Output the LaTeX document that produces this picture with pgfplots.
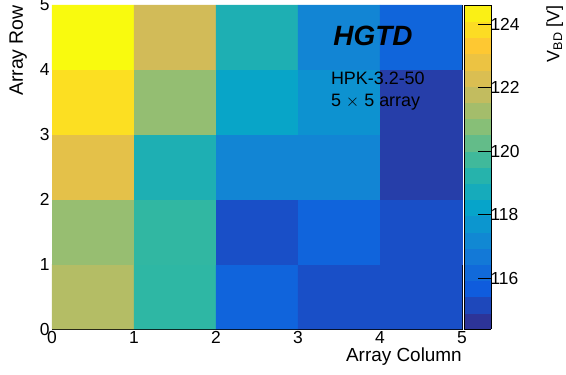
\documentclass[border=0pt]{standalone}
\usepackage{fontspec}
\setmainfont{Liberation Sans}
\usepackage{pgfplots}
\usepackage{pgfplotstable}
\pgfplotsset{compat=1.18}
\pgfplotstableread{
x y v
0.5 0.5 121.55
1.5 0.5 119.5
2.5 0.5 115.95
3.5 0.5 115.35
4.5 0.5 115.35
0.5 1.5 121.05
1.5 1.5 119.55
2.5 1.5 115.35
3.5 1.5 115.95
4.5 1.5 115.35
0.5 2.5 122.6
1.5 2.5 119.0
2.5 2.5 117.1
3.5 2.5 117.1
4.5 2.5 114.9
0.5 3.5 123.9
1.5 3.5 121.0
2.5 3.5 118.3
3.5 3.5 117.6
4.5 3.5 114.9
0.5 4.5 124.6
1.5 4.5 122.1
2.5 4.5 119.0
3.5 4.5 117.1
4.5 4.5 116.0
}\cells
\pgfplotsset{colormap={bird}{rgb=(0.2082,0.1664,0.5293) rgb=(0.0592,0.3599,0.8684) rgb=(0.0780,0.5041,0.8385) rgb=(0.0232,0.6419,0.7914) rgb=(0.1802,0.7178,0.6425) rgb=(0.5301,0.7492,0.4662) rgb=(0.8186,0.7328,0.3499) rgb=(0.9956,0.7862,0.1968) rgb=(0.9764,0.9832,0.0539)}}
\begin{document}
\begin{tikzpicture}
\useasboundingbox (0,0) rectangle (566bp,375bp);
\begin{axis}[
  at={(52bp,46bp)}, anchor=south west,
  scale only axis, width=410bp, height=324bp,
  xmin=0, xmax=5, ymin=0, ymax=5,
  xtick={0,1,2,3,4,5}, ytick={0,1,2,3,4,5},
  tick align=inside, major tick length=10bp,
  tick style={black, line width=0.6pt},
  axis line style={line width=0.8pt},
  /pgf/number format/assume math mode=true,
  ticklabel style={font=\fontsize{17.5}{20}\selectfont},
  xticklabel style={yshift=1bp},
  yticklabel style={xshift=1bp},
  xlabel={Array Column}, ylabel={Array Row},
  every axis x label/.style={at={(axis description cs:1,-0.058)}, anchor=north east, inner sep=0pt, font=\fontsize{19}{22}\selectfont},
  every axis y label/.style={at={(axis description cs:-0.061,1)}, rotate=90, anchor=south east, inner sep=0pt, font=\fontsize{19.5}{22}\selectfont},
  colormap name=bird,
  point meta min=114.4, point meta max=124.6,
  colorbar sampled,
  colorbar style={
    samples=21,
    at={(parent axis.north east)}, anchor=north west, xshift=-6.5bp,
    width=27bp,
    ytick={116,118,120,122,124},
    yticklabel pos=right, ytick pos=right,
    tick align=inside, major tick length=13bp,
    tick style={black, line width=0.6pt},
    axis line style={line width=0.6pt},
    /pgf/number format/assume math mode=true,
    yticklabel style={font=\fontsize{17.5}{20}\selectfont, xshift=-4bp},
    ylabel={V\textsubscript{BD} [V]},
    every axis y label/.style={at={(axis description cs:3.68,1)}, rotate=90, anchor=south east, inner sep=0pt, font=\fontsize{18}{21}\selectfont},
  },
  clip=false,
]
\addplot[matrix plot*, mesh/cols=5, point meta=explicit, shader=flat corner] table[x=x, y=y, meta=v] {\cells};
\node[anchor=base west, inner sep=0pt, font=\fontsize{28}{32}\selectfont\bfseries\itshape] at (axis cs:3.43,4.37) {HGTD};
\node[anchor=base west, inner sep=0pt, font=\fontsize{18}{21}\selectfont] at (axis cs:3.40,3.77) {HPK-3.2-50};
\node[anchor=base west, inner sep=0pt, font=\fontsize{18}{21}\selectfont] at (axis cs:3.40,3.43) {5 $\times$ 5 array};
\end{axis}
\end{tikzpicture}
\end{document}
